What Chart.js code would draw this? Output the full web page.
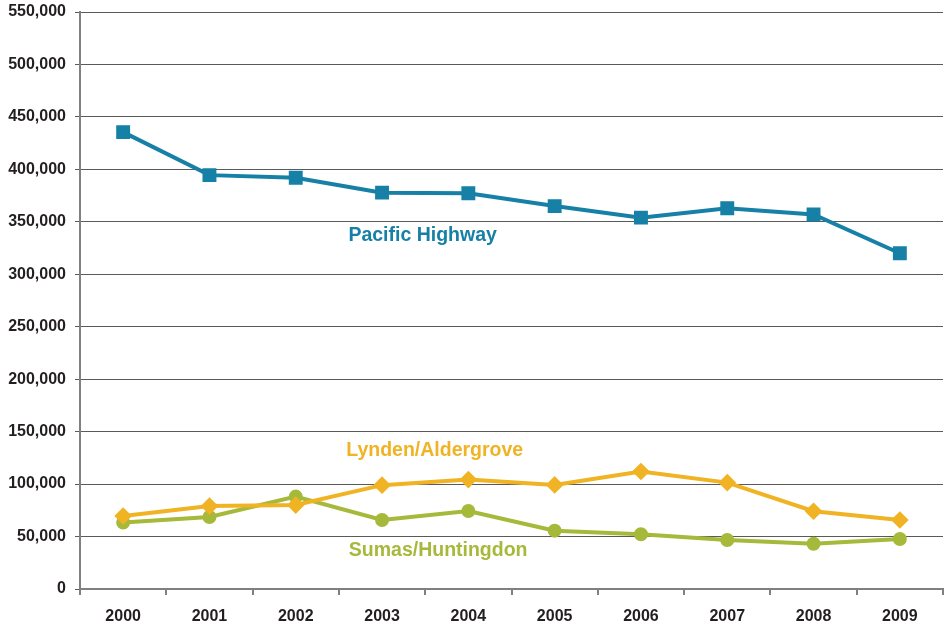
<!DOCTYPE html>
<html>
<head>
<meta charset="utf-8">
<script src="https://cdn.jsdelivr.net/npm/chart.js@4/dist/chart.umd.min.js"></script>
<style>
  html, body { margin: 0; padding: 0; background: #fff; }
  #wrap { width: 944px; height: 624px; }
</style>
</head>
<body>
<div id="wrap"><canvas id="chart" width="944" height="624"></canvas></div>
<script>
const years = ["2000", "2001", "2002", "2003", "2004", "2005", "2006", "2007", "2008", "2009"];
const pacificHighway = [435500, 394500, 392000, 377800, 377300, 365000, 354000, 363000, 357000, 320000];
const lyndenAldergrove = [69600, 79000, 80000, 99000, 104300, 99200, 112000, 101400, 74100, 65800];
const sumasHuntingdon = [63300, 68700, 88100, 65800, 74400, 55600, 52200, 46700, 43200, 47700];
const yTicks = [0, 50000, 100000, 150000, 200000, 250000, 300000, 350000, 400000, 450000, 500000, 550000];

// series name labels, placed by category index / value
const seriesLabels = [
  { text: "Pacific Highway", x: 3.47, y: 336800, color: "#1680a6" },
  { text: "Lynden/Aldergrove", x: 3.61, y: 132000, color: "#f0b323" },
  { text: "Sumas/Huntingdon", x: 3.65, y: 36500, color: "#a6b93a" },
];

const labelPlugin = {
  id: "seriesLabels",
  afterDatasetsDraw(chart) {
    const { ctx, scales } = chart;
    ctx.save();
    ctx.font = "bold 19.5px 'Liberation Sans', Arial, sans-serif";
    ctx.textAlign = "center";
    ctx.textBaseline = "middle";
    seriesLabels.forEach((l) => {
      ctx.fillStyle = l.color;
      ctx.fillText(l.text, scales.x.getPixelForValue(l.x), scales.y.getPixelForValue(l.y));
    });
    ctx.restore();
  },
};

const tickFont = { family: "'Liberation Sans', Arial, sans-serif", size: 16, weight: "bold" };

new Chart(document.getElementById("chart"), {
  type: "line",
  data: {
    labels: years,
    datasets: [
      { label: "Pacific Highway", data: pacificHighway, borderColor: "#1680a6", backgroundColor: "#1680a6", borderWidth: 4, pointStyle: "rect", pointRadius: 7, tension: 0 },
      { label: "Lynden/Aldergrove", data: lyndenAldergrove, borderColor: "#f0b323", backgroundColor: "#f0b323", borderWidth: 4, pointStyle: "rectRot", pointRadius: 6, tension: 0 },
      { label: "Sumas/Huntingdon", data: sumasHuntingdon, borderColor: "#a6b93a", backgroundColor: "#a6b93a", borderWidth: 4, pointStyle: "circle", pointRadius: 5, tension: 0 },
    ],
  },
  options: {
    responsive: false,
    animation: false,
    layout: { autoPadding: false, padding: { top: 12, right: 1, left: 0, bottom: 0 } },
    plugins: { legend: { display: false }, tooltip: { enabled: false } },
    scales: {
      x: {
        offset: true,
        grid: { offset: true, drawOnChartArea: false, drawTicks: true, tickLength: 6, color: "#808080", lineWidth: 2 },
        border: { color: "#808080", width: 2 },
        ticks: { color: "#231f20", font: tickFont, padding: 12, maxRotation: 0 },
        afterFit: (scale) => {
          scale.height = 35;
          scale.paddingLeft = 0;
          scale.paddingRight = 0;
        },
      },
      y: {
        min: 0,
        max: 550000,
        afterBuildTicks: (scale) => { scale.ticks = yTicks.map((v) => ({ value: v })); },
        grid: { color: "#5a5a5a", lineWidth: 1, tickLength: 5 },
        border: { color: "#808080", width: 2 },
        ticks: {
          color: "#231f20",
          font: tickFont,
          padding: 9,
          callback: (v) => v.toLocaleString("en-US"),
        },
        afterFit: (scale) => {
          scale.width = 80;
          scale.paddingTop = 0;
          scale.paddingBottom = 0;
        },
      },
    },
  },
  plugins: [labelPlugin],
});
</script>
</body>
</html>
